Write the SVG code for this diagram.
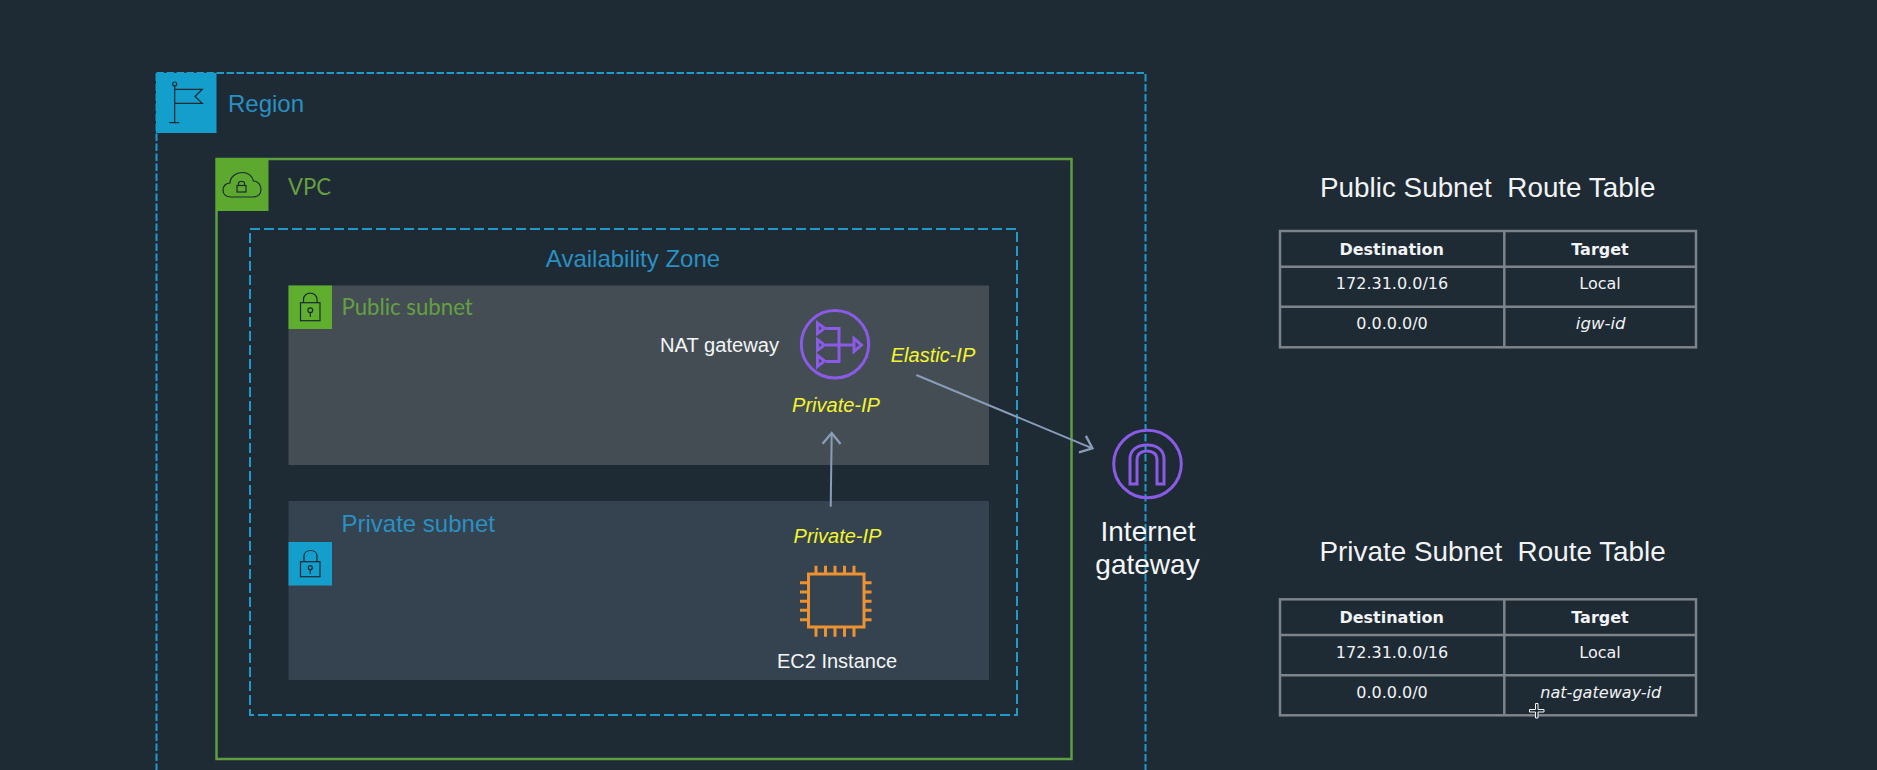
<svg xmlns="http://www.w3.org/2000/svg" width="1877" height="770" viewBox="0 0 1877 770">
<defs>
<style>
text{font-family:"Liberation Sans",Arial,sans-serif;white-space:pre}
.blue{fill:#2a90c2;font-size:24px}
.green{fill:#64a043;font-family:Lato,"Liberation Sans",sans-serif;font-size:22.200px}
.white{fill:#f4f6f7;font-size:20px}
.big{fill:#f4f6f7;font-size:28px;text-anchor:middle}
.title{fill:#f1f3f4;font-size:27.850px}
.ip{fill:#f4f52f;font-size:20px;font-style:italic;text-anchor:middle}
.tb{font-family:"DejaVu Sans",sans-serif;font-size:16px;fill:#f1f3f4;text-anchor:middle}
.th{font-weight:bold}
.em{font-style:italic}
.grid{fill:none;stroke:#7d8388;stroke-width:2.5}
.ico{fill:none;stroke:#1a2a34;stroke-width:1.2}
.pur{fill:none;stroke:#8a5be6;stroke-width:3}
.chip{fill:none;stroke:#ec9230;stroke-width:3}
.conn{fill:none;stroke:#8a9db8;stroke-width:2}
</style>
<marker id="open" markerUnits="userSpaceOnUse" markerWidth="24" markerHeight="24" refX="15" refY="10" orient="auto" viewBox="0 0 20 20">
<path d="M6,2.500 L15,10 L6,17.500" fill="none" stroke="#8a9db8" stroke-width="2"/>
</marker>
</defs>
<rect width="1877" height="770" fill="#1e2a34"/>

<g id="region">
<rect x="156.500" y="73" width="989" height="760" fill="none" stroke="#1f9ac9" stroke-width="2" stroke-dasharray="7.500 2.500"/>
<rect x="156" y="73" width="60.500" height="60" fill="#149ecb"/>
<path class="ico" d="M174.700,86 V122.700 M169.300,122.700 H179.300 M174.700,89.300 H202.300 L195,96.500 L202.300,103.300 H174.700"/>
<circle class="ico" cx="174.700" cy="84" r="2"/>
<text class="blue" x="228" y="112">Region</text>
</g>

<g id="vpc">
<rect x="216.500" y="159" width="855" height="600" fill="none" stroke="#5f9e40" stroke-width="2.500"/>
<rect x="216" y="158" width="52.500" height="53" fill="#5da82f"/>
<path class="ico" d="M231,197 C226,197 223,194 223,190 C223,186 226,183 230,183 C230,177 236,172.500 242,172.500 C248,172.500 252,176 253.500,181 C258,181 261,185 261,189.500 C261,194 258,197 253,197 Z"/>
<rect class="ico" x="237" y="185.500" width="9" height="6.500"/>
<path class="ico" d="M238.500,185.500 V183.500 C238.500,180.500 244.500,180.500 244.500,183.500 V185.500"/>
<text class="green" x="288" y="195">VPC</text>
</g>

<g id="availability-zone">
<rect x="250" y="229" width="767" height="486" fill="none" stroke="#1f9ac9" stroke-width="2" stroke-dasharray="10 4"/>
<text class="blue" x="633" y="267" text-anchor="middle">Availability Zone</text>
</g>

<g id="public-subnet">
<rect x="288.500" y="285.500" width="700.500" height="179.500" fill="#444d54"/>
<rect x="288.500" y="285.500" width="43.500" height="43.500" fill="#5fae2d"/>
<rect class="ico" x="300.500" y="302.700" width="19.500" height="18"/>
<path class="ico" d="M303.500,302.700 V299.500 C303.500,291 317,291 317,299.500 V302.700"/>
<circle class="ico" cx="310.300" cy="310.300" r="2.400"/>
<path class="ico" d="M310.300,312.700 V317"/>
<text class="green" x="341.500" y="315">Public subnet</text>
</g>

<g id="private-subnet">
<rect x="288.500" y="501" width="700.500" height="179" fill="#354350"/>
<rect x="288.500" y="542" width="43.500" height="43.500" fill="#149ecb"/>
<rect class="ico" x="300.500" y="561.700" width="19.500" height="15"/>
<path class="ico" d="M304,561.700 V556.500 C304,548.500 317,548.500 317,556.500 V561.700"/>
<circle class="ico" cx="310.300" cy="567.700" r="2"/>
<path class="ico" d="M310.300,569.700 V574"/>
<text class="blue" x="341.500" y="532">Private subnet</text>
</g>

<g id="nat-gateway">
<circle class="pur" cx="835" cy="344.300" r="33.700"/>
<path class="pur" d="M817.500,323 L824.500,328.300 L817.500,333.500 Z M817.500,339.700 L824.500,345 L817.500,350.300 Z M817.500,355.500 L824.500,361 L817.500,366.500 Z M854,338.500 L861.500,345 L854,351.500 Z"/>
<path class="pur" d="M826,328.500 H839 V361.500 H826 M826,345 H854"/>
<text class="white" x="660" y="351.500" style="font-size:20.150px">NAT gateway</text>
<text class="ip" x="836" y="412">Private-IP</text>
<text class="ip" x="933" y="362">Elastic-IP</text>
</g>

<g id="ec2-instance">
<rect class="chip" x="808.500" y="574" width="55.500" height="53"/>
<path class="chip" d="M816,565.700 V574 M825.500,565.700 V574 M835,565.700 V574 M844.500,565.700 V574 M854,565.700 V574 M816,627 V636.700 M825.500,627 V636.700 M835,627 V636.700 M844.500,627 V636.700 M854,627 V636.700 M800,582.700 H808.500 M800,592 H808.500 M800,601.300 H808.500 M800,610.300 H808.500 M800,619.700 H808.500 M864,582.700 H871.500 M864,592 H871.500 M864,601.300 H871.500 M864,610.300 H871.500 M864,619.700 H871.500"/>
<text class="ip" x="837.500" y="543">Private-IP</text>
<text class="white" x="837" y="668" text-anchor="middle">EC2 Instance</text>
</g>

<g id="internet-gateway">
<circle class="pur" cx="1147.500" cy="464" r="33.800"/>
<path class="pur" d="M1130,484 V459 C1130,450 1137,445 1147,445 C1157,445 1164,450 1164,459 V484 H1157 V460 C1157,454 1153,451 1147,451 C1141,451 1137,454 1137,460 V484 Z"/>
<text class="big" x="1148" y="540.700">Internet</text>
<text class="big" x="1147.500" y="573.500">gateway</text>
</g>

<g id="connectors">
<path class="conn" marker-end="url(#open)" d="M830.700,506.700 L831.700,433"/>
<path class="conn" marker-end="url(#open)" d="M916.300,375 L1092.400,448.300"/>
</g>

<g id="public-route-table">
<text class="title" x="1320" y="197.300">Public Subnet  Route Table</text>
<rect class="grid" x="1280" y="231" width="416" height="116.300"/>
<path class="grid" d="M1504.300,231 V347.300 M1280,266.700 H1696 M1280,306.700 H1696"/>
<text class="tb th" x="1391.700" y="254.800">Destination</text>
<text class="tb th" x="1600" y="254.800">Target</text>
<text class="tb" x="1392" y="289.300">172.31.0.0/16</text>
<text class="tb" x="1600" y="289.300">Local</text>
<text class="tb" x="1392" y="329.300">0.0.0.0/0</text>
<text class="tb em" x="1600.700" y="329.300" style="font-size:16.600px">igw-id</text>
</g>

<g id="private-route-table">
<text class="title" x="1319.500" y="560.700">Private Subnet  Route Table</text>
<rect class="grid" x="1280" y="599.300" width="416" height="116"/>
<path class="grid" d="M1504.300,599.300 V715.300 M1280,635 H1696 M1280,675.300 H1696"/>
<text class="tb th" x="1391.700" y="623">Destination</text>
<text class="tb th" x="1600" y="623">Target</text>
<text class="tb" x="1392" y="658">172.31.0.0/16</text>
<text class="tb" x="1600" y="658">Local</text>
<text class="tb" x="1392" y="698.300">0.0.0.0/0</text>
<text class="tb em" x="1600.700" y="698.300" style="font-size:16.100px">nat-gateway-id</text>
</g>

<path id="cursor" d="M1535.500,703.500 H1538 V709.500 H1544 V712 H1538 V718 H1535.500 V712 H1529.500 V709.500 H1535.500 Z" fill="#1e2a34" stroke="#f4f6f7" stroke-width="1"/>
</svg>
